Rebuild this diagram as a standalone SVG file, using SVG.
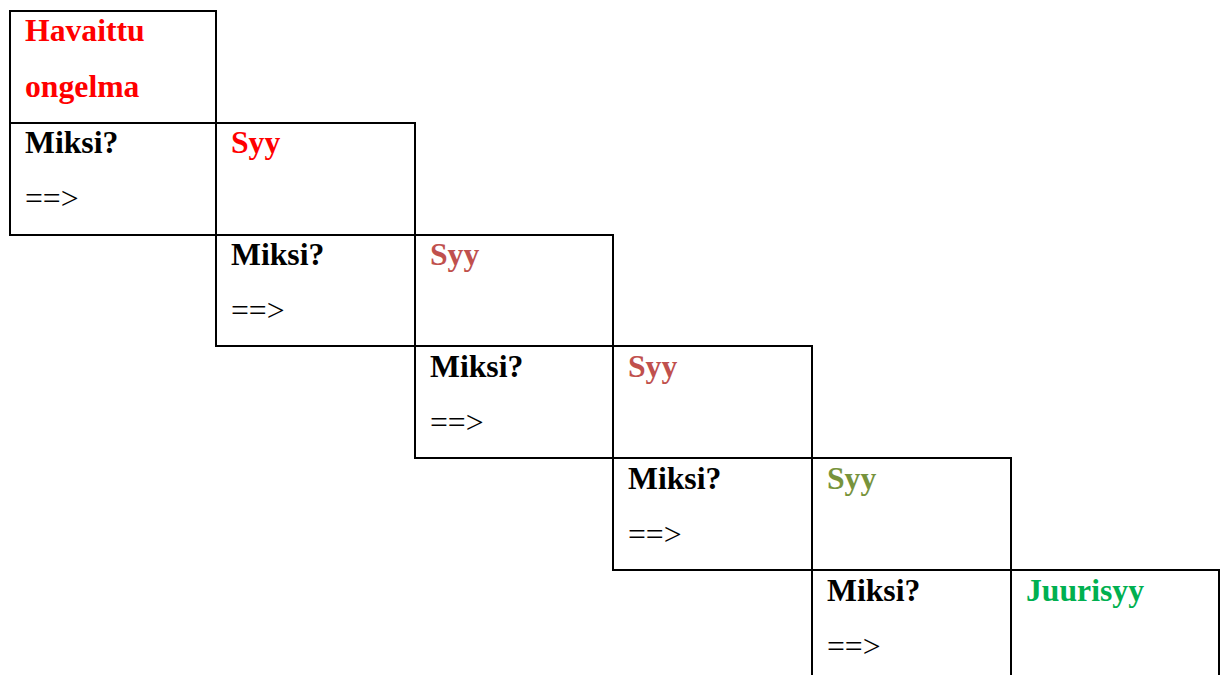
<svg xmlns="http://www.w3.org/2000/svg" width="1227" height="675" viewBox="0 0 1227 675">
  <style>
    .cell { fill: #ffffff; stroke: #000000; stroke-width: 2; }
    .t { font-family: "Liberation Serif", "Times New Roman", serif; font-size: 31.7px; }
    .b { font-weight: bold; }
    .q { fill: #000000; }
    .red { fill: #FF0000; }
    .brick { fill: #C0504D; }
    .olive { fill: #77933C; }
    .green { fill: #00B050; }
  </style>
  <rect width="1227" height="675" fill="#ffffff"/>

  <!-- step 0: observed problem -->
  <g id="problem">
    <rect class="cell" x="10" y="11" width="206" height="112"/>
    <text class="t b red" x="25" y="41">Havaittu</text>
    <text class="t b red" x="25" y="97">ongelma</text>
  </g>

  <!-- step 1 -->
  <g id="why1">
    <rect class="cell" x="10" y="123" width="206" height="112"/>
    <text class="t b q" x="25" y="153">Miksi?</text>
    <text class="t q" x="25" y="209">==&gt;</text>
  </g>
  <g id="cause1">
    <rect class="cell" x="216" y="123" width="199" height="112"/>
    <text class="t b red" x="231" y="153">Syy</text>
  </g>

  <!-- step 2 -->
  <g id="why2">
    <rect class="cell" x="216" y="235" width="199" height="111"/>
    <text class="t b q" x="231" y="265">Miksi?</text>
    <text class="t q" x="231" y="321">==&gt;</text>
  </g>
  <g id="cause2">
    <rect class="cell" x="415" y="235" width="198" height="111"/>
    <text class="t b brick" x="430" y="265">Syy</text>
  </g>

  <!-- step 3 -->
  <g id="why3">
    <rect class="cell" x="415" y="346" width="198" height="112"/>
    <text class="t b q" x="430" y="377">Miksi?</text>
    <text class="t q" x="430" y="433">==&gt;</text>
  </g>
  <g id="cause3">
    <rect class="cell" x="613" y="346" width="199" height="112"/>
    <text class="t b brick" x="628" y="377">Syy</text>
  </g>

  <!-- step 4 -->
  <g id="why4">
    <rect class="cell" x="613" y="458" width="199" height="112"/>
    <text class="t b q" x="628" y="489">Miksi?</text>
    <text class="t q" x="628" y="545">==&gt;</text>
  </g>
  <g id="cause4">
    <rect class="cell" x="812" y="458" width="199" height="112"/>
    <text class="t b olive" x="827" y="489">Syy</text>
  </g>

  <!-- step 5: root cause -->
  <g id="why5">
    <rect class="cell" x="812" y="570" width="199" height="130"/>
    <text class="t b q" x="827" y="601">Miksi?</text>
    <text class="t q" x="827" y="657">==&gt;</text>
  </g>
  <g id="rootcause">
    <rect class="cell" x="1011" y="570" width="208" height="130"/>
    <text class="t b green" x="1026" y="601">Juurisyy</text>
  </g>
</svg>
